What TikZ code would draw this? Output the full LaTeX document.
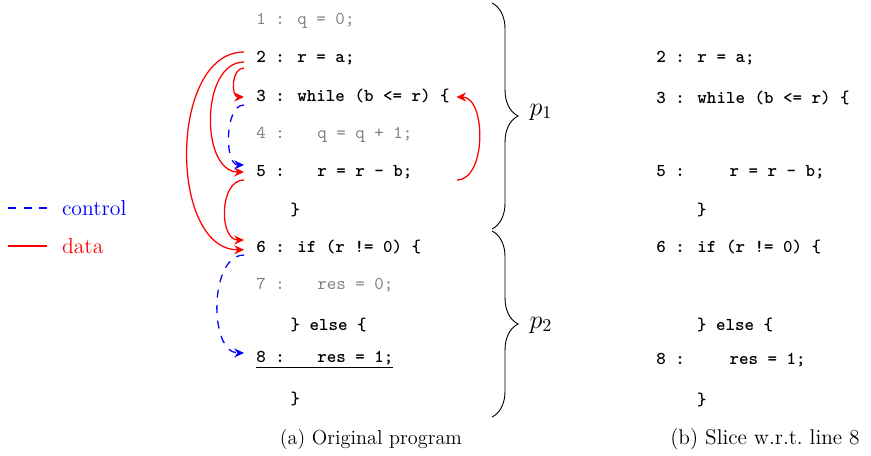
\documentclass[tikz,border=0pt]{standalone}
\usepackage{amsmath,amssymb}
\usepackage{tikz}
\usetikzlibrary{arrows.meta,positioning,calc,decorations.pathreplacing}
\usepackage{xcolor}

\begin{document}
\begin{tikzpicture}[
    x=0.5525pt, y=-0.5525pt,
    code/.style={anchor=west, inner xsep=6.6pt, inner ysep=0pt, text height=7pt, text depth=2pt, font=\ttfamily\bfseries},
    dropped/.style={code, font=\ttfamily, text=black!50},
    data/.style={red, line width=0.7pt, -{Stealth[length=5.4pt, width=5pt, inset=1.8pt]}},
    control/.style={blue, line width=0.7pt, dash pattern=on 4.4pt off 4.2pt, -{Stealth[length=5.4pt, width=5pt, inset=1.8pt]}},
    part/.style={decorate, decoration={brace, amplitude=14.4pt}, line width=0.5pt},
    legend/.style={anchor=west, inner xsep=0pt, outer xsep=8.3pt, font=\large},
    caption/.style={font=\fontsize{11.2}{13}\selectfont}
]
    \useasboundingbox (0,0) rectangle (871,455);

    % Legend
    \node[legend, text=blue] (ctrl) at (47,208) {control};
    \node[legend, text=red] (dat) at (47,246) {data};
    \coordinate (ctrl0) at (8,208);
    \coordinate (dat0) at (8,246);
    \draw[control, -] (ctrl0) -- (ctrl.west);
    \draw[data, -] (dat0) -- (dat.west);

    % Original program
    \node[dropped] (l1) at (244,20) {1 : q = 0;};
    \node[code] (l2) at (244,58) {2 : r = a;};
    \node[code] (l3) at (244,97) {3 : while (b <= r) \{};
    \node[dropped] (l4) at (244,134) {4 :\hspace{18pt}q = q + 1;};
    \node[code] (l5) at (244,172) {5 :\hspace{18pt}r = r - b;};
    \node[code] (l5c) at (244,211) {\hspace{19pt}\}};
    \node[code] (l6) at (244,248) {6 : if (r != 0) \{};
    \node[dropped] (l7) at (244,285) {7 :\hspace{18pt}res = 0;};
    \node[code] (l7c) at (244,326) {\hspace{19pt}\} else \{};
    \node[code] (l8) at (244,358) {\underline{8 :\hspace{18pt}res = 1;}};
    \node[code] (l8c) at (244,400) {\hspace{19pt}\}};
    \node[caption] (capa) at (371,439) {(a) Original program};

    % Data dependences
    \draw[data] ([yshift=-5.5pt]l2.west) to[out=180, in=180, looseness=1.15] (l3.west);
    \draw[data] ([yshift=-2.2pt]l2.west) to[out=180, in=180, looseness=1.02] (l5.west);
    \draw[data] ([yshift=3.3pt]l2.west) to[out=180, in=180, looseness=0.98] ([yshift=-1pt]l6.west);
    \draw[data] ([yshift=-4.4pt]l5.west) to[out=180, in=180, looseness=1.07] ([yshift=4.4pt]l6.west);
    \coordinate (l5r) at ($(l5.west -| l3.east)+(-5,8)$);
    \draw[data] (l5r) to[out=0, in=0, looseness=0.92] ([xshift=-3pt]l3.east);

    % Control dependences
    \draw[control] ([yshift=-4.4pt]l3.west) to[out=180, in=180, looseness=0.84] ([yshift=3.9pt]l5.west);
    \draw[control] ([yshift=-3.9pt]l6.west) to[out=180, in=180, looseness=0.92] ([yshift=2.8pt]l8.west);

    % Parts
    \draw[part] (492,3) -- (492,229);
    \draw[part] (492,231) -- (492,417);
    \node[font=\Large] (p1) at (541,112) {$p_1$};
    \node[font=\Large] (p2) at (541,325) {$p_2$};

    % Slice
    \node[code] (s2) at (644,58) {2 : r = a;};
    \node[code] (s3) at (644,99) {3 : while (b <= r) \{};
    \node[code] (s5) at (644,172) {5 :\hspace{24.7pt}r = r - b;};
    \node[code] (s5c) at (644,211) {\hspace{22.6pt}\}};
    \node[code] (s6) at (644,248) {6 : if (r != 0) \{};
    \node[code] (s7c) at (644,326) {\hspace{22.6pt}\} else \{};
    \node[code] (s8) at (644,360) {8 :\hspace{24.7pt}res = 1;};
    \node[code] (s8c) at (644,401) {\hspace{22.6pt}\}};
    \node[caption, font=\fontsize{11.8}{13}\selectfont] (capb) at (765,439) {(b) Slice w.r.t.\ line 8};
\end{tikzpicture}
\end{document}
